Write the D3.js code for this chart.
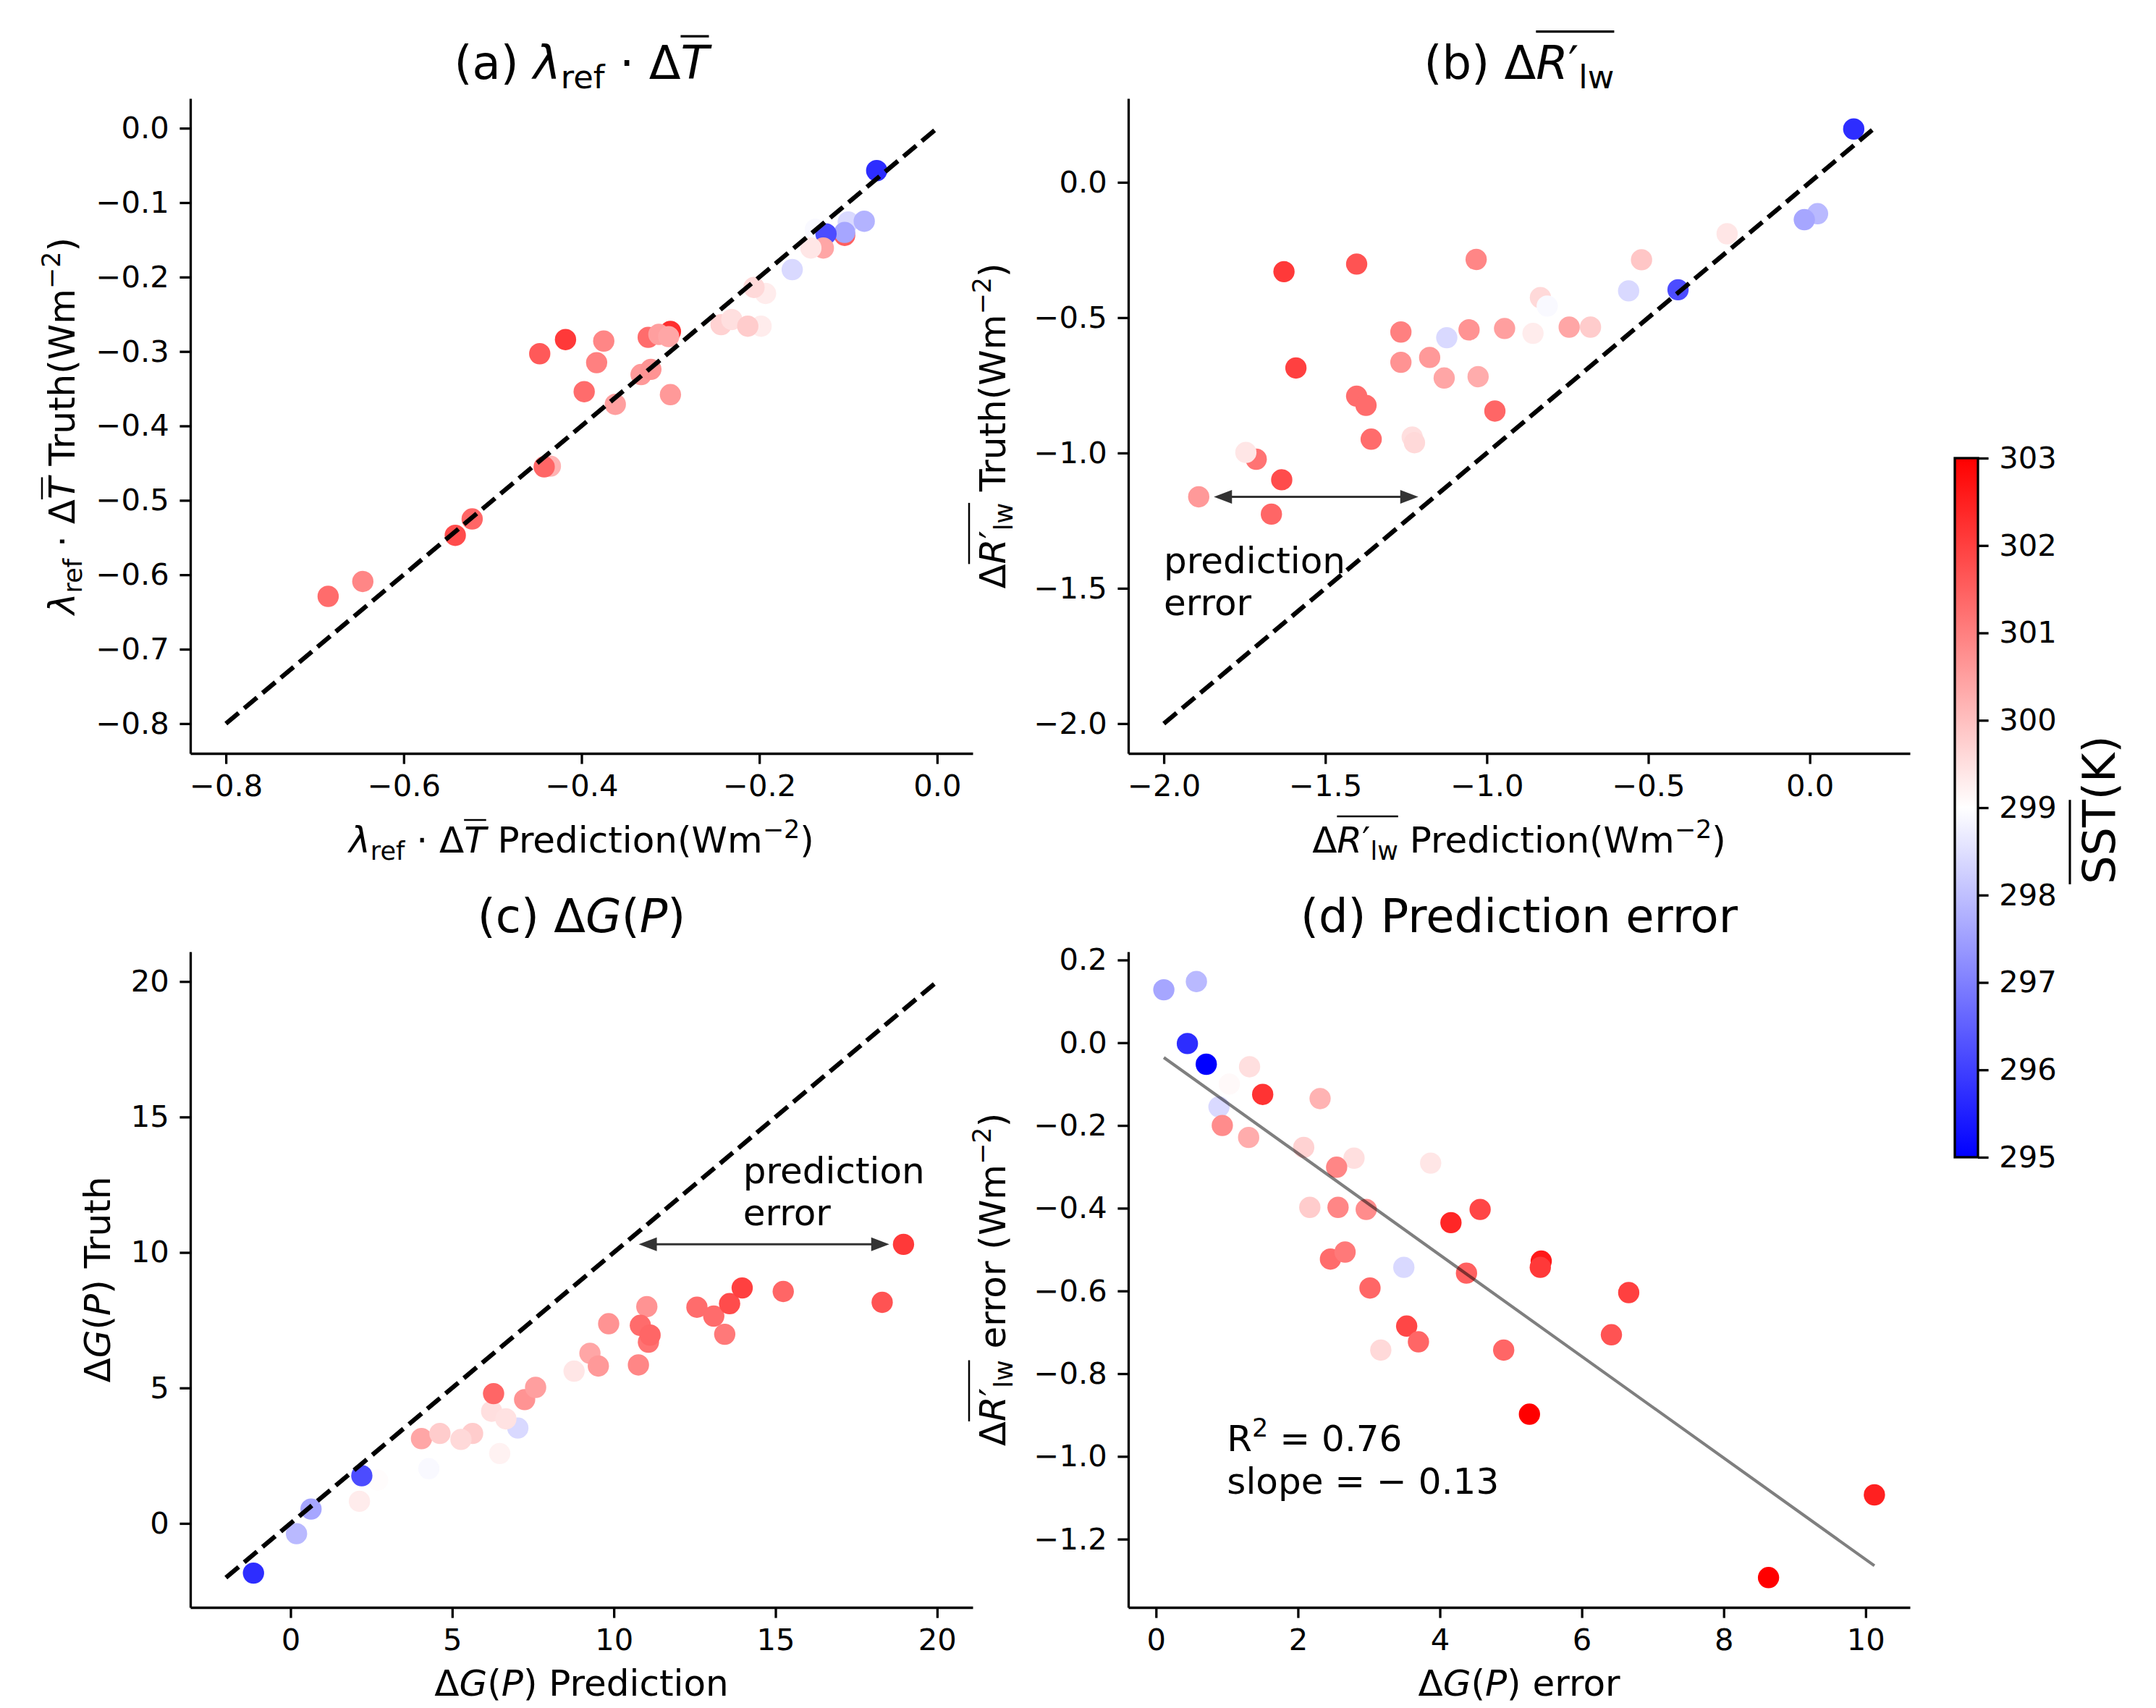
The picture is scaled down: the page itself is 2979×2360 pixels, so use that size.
<!DOCTYPE html>
<html>
<head>
<meta charset="utf-8">
<script src="https://cdn.jsdelivr.net/npm/d3@7"></script>
<style>
  body { margin: 0; background: #fff; }
  text { font-family: "DejaVu Sans", sans-serif; }
</style>
</head>
<body>
<svg id="fig"></svg>
<script>
// ---- data ----
// (a) lambda_ref * dT
var aPred  = [-0.068,-0.100,-0.082,-0.104,-0.104,-0.137,-0.125,-0.128,-0.142,-0.163,-0.193,-0.206,-0.243,-0.231,-0.198,-0.213,-0.325,-0.300,-0.313,-0.302,-0.333,-0.322,-0.300,-0.362,-0.397,-0.383,-0.375,-0.418,-0.447,-0.435,-0.442,-0.523,-0.542,-0.646,-0.685];
var aTruth = [-0.057,-0.126,-0.125,-0.144,-0.140,-0.136,-0.142,-0.161,-0.161,-0.190,-0.222,-0.214,-0.264,-0.257,-0.266,-0.266,-0.281,-0.273,-0.277,-0.280,-0.331,-0.324,-0.358,-0.371,-0.354,-0.315,-0.286,-0.284,-0.303,-0.454,-0.455,-0.525,-0.547,-0.609,-0.629];
var aSST   = [295.7,298.4,297.8,301.5,297.6,298.9,296.2,300.4,299.4,298.4,299.3,299.6,299.7,299.5,299.3,299.8,301.3,302.3,300.5,300.4,300.6,300.7,300.6,300.5,301.3,301.0,300.9,302.1,301.6,300.2,301.4,301.4,301.8,300.9,301.3];
var aLine  = [-0.8, 0];
var aXTicks = [-0.8,-0.6,-0.4,-0.2,0.0];
var aYTicks = [-0.8,-0.7,-0.6,-0.5,-0.4,-0.3,-0.2,-0.1,0.0];

// (b) dR_lw
var bPred  = [0.136,0.024,-0.017,-0.297,-0.256,-0.521,-0.561,-0.408,-0.834,-0.813,-0.745,-0.679,-0.857,-1.628,-1.403,-1.033,-1.266,-1.124,-1.055,-0.945,-1.591,-1.266,-1.177,-1.132,-1.027,-0.975,-1.403,-1.374,-1.358,-1.231,-1.224,-1.714,-1.746,-1.635,-1.892,-1.667];
var bTruth = [0.197,-0.116,-0.138,-0.185,-0.190,-0.286,-0.401,-0.397,-0.426,-0.457,-0.535,-0.535,-0.558,-0.330,-0.302,-0.285,-0.553,-0.574,-0.545,-0.540,-0.686,-0.665,-0.647,-0.723,-0.718,-0.845,-0.790,-0.824,-0.949,-0.941,-0.962,-1.023,-0.998,-1.099,-1.162,-1.226];
var bSST   = [295.7,297.9,297.6,299.0,299.4,299.9,298.4,296.2,299.6,298.9,300.4,299.8,299.3,302.1,301.7,300.9,301.0,298.4,300.7,300.5,302.0,300.7,300.6,300.4,300.3,301.4,301.3,301.3,301.3,299.5,299.6,301.2,299.4,301.8,300.6,301.4];
var bLine  = [-2.0, 0.2];
var bTicks = [-2.0,-1.5,-1.0,-0.5,0.0];
var bArrowX = [-1.845, -1.212], bArrowY = -1.162;
var bNote = [-2.0, -1.6];

// (c) dG(P)
var cPred  = [-1.147,0.184,0.633,2.130,2.69,2.204,4.277,4.05,4.62,5.63,5.27,6.47,7.03,6.22,6.66,6.28,7.24,7.58,8.77,9.26,9.52,10.76,9.84,11.02,10.82,11.07,11.12,12.57,13.09,13.43,13.58,13.97,15.24,18.30,18.96];
var cTruth = [-1.834,-0.380,0.530,0.816,1.60,1.761,2.02,3.13,3.32,3.32,3.10,2.58,3.52,4.14,3.86,4.79,4.57,5.02,5.62,6.28,5.81,5.85,7.37,8.00,7.31,6.69,6.95,7.98,7.65,6.98,8.11,8.69,8.56,8.16,10.30];
var cSST   = [295.7,297.9,297.6,299.3,299.05,296.2,298.9,300.4,299.8,299.8,299.6,299.2,298.4,299.5,299.45,301.4,300.7,300.5,299.4,300.4,300.6,300.9,300.7,300.7,301.3,301.2,301.4,301.3,301.3,301.1,301.8,302.0,301.4,301.7,302.1];
var cLine  = [-2, 20];
var cTicks = [0, 5, 10, 15, 20];
var cArrowX = [10.77, 18.52], cArrowY = 10.30;
var cNote = [14, 11];

// (d) prediction error
var dX   = [0.110,0.569,0.442,0.708,1.318,1.033,1.503,0.887,0.934,1.305,2.312,2.081,2.790,2.545,3.870,2.167,2.565,2.962,4.156,4.567,2.458,2.664,3.492,4.375,5.428,5.415,6.661,3.015,6.417,3.532,3.698,3.167,4.899,5.262,10.123,8.631];
var dY   = [0.128,0.148,-0.002,-0.052,-0.058,-0.100,-0.125,-0.155,-0.200,-0.229,-0.135,-0.253,-0.279,-0.301,-0.291,-0.398,-0.398,-0.403,-0.435,-0.403,-0.523,-0.506,-0.543,-0.557,-0.528,-0.543,-0.604,-0.593,-0.706,-0.685,-0.723,-0.743,-0.743,-0.898,-1.093,-1.293];
var dSST = [297.6,297.9,295.7,295.0,299.5,299.1,302.2,298.4,300.8,300.3,300.2,299.7,299.5,300.9,299.4,299.8,300.9,300.8,302.4,301.9,301.3,301.1,298.4,301.5,302.6,302.1,302.0,301.4,301.7,301.9,301.4,299.6,301.4,303.0,302.5,303.0];
var dXTicks = [0, 2, 4, 6, 8, 10];
var dYTicks = [-1.2,-1.0,-0.8,-0.6,-0.4,-0.2,0.0,0.2];
var fitSlope = -0.1227, fitIntercept = -0.0222;
var dNote = [1.0, -1.09];

var sstTicks = [295,296,297,298,299,300,301,302,303];

// ---- setup ----
var width = 2979, height = 2360;
var tickFont = 41.7, labelFont = 50, titleFont = 64;
var lw = 3.3;

var svg = d3.select('#fig').attr('width', width).attr('height', height);
svg.append('rect').attr('width', width).attr('height', height).attr('fill', '#fff');

var clr = d3.scaleLinear().domain([295, 299, 303]).range(['#0000ff', '#ffffff', '#ff0000']).clamp(true);

function padded(vals) {
    var e = d3.extent(vals), m = (e[1] - e[0]) * 0.05;
    return [e[0] - m, e[1] + m];
}

// text with italic / sub / sup / overline pieces
function rich(parent, parts, size, x, y, rot, anchor, ovh) {
    var g = parent.append('g').attr('transform', 'translate(' + x + ',' + y + ')' + (rot ? ' rotate(' + rot + ')' : ''));
    var t = g.append('text').attr('font-size', size).attr('text-anchor', anchor || 'middle');
    var shift = 0;
    parts.forEach(function(p) {
        var target = p.sub ? 0.2 * size : (p.sup ? -0.4 * size : 0);
        var s = t.append('tspan').text(p.t).attr('dy', target - shift);
        shift = target;
        if (p.sub || p.sup) s.attr('font-size', 0.7 * size);
        if (p.it) s.attr('font-style', 'italic');
        if (p.dx) s.attr('dx', p.dx * size);
    });
    var node = t.node(), i = 0, o0 = null, o1 = null;
    parts.forEach(function(p) {
        var n = p.t.length;
        if (p.ov) {
            var a = node.getStartPositionOfChar(i).x, b = node.getEndPositionOfChar(i + n - 1).x;
            o0 = o0 == null ? a : Math.min(o0, a);
            o1 = o1 == null ? b : Math.max(o1, b);
        }
        i += n;
    });
    if (o0 != null) {
        var oy = -(ovh || 0.95) * size;
        g.append('line').attr('x1', o0).attr('x2', o1).attr('y1', oy).attr('y2', oy)
            .attr('stroke', '#000').attr('stroke-width', 0.05 * size);
    }
    return g;
}

var lamT = [{t: 'λ', it: 1}, {t: 'ref', sub: 1}, {t: ' · Δ'}, {t: 'T', it: 1, ov: 1}];
var dR   = [{t: 'Δ'}, {t: 'R', it: 1, ov: 1}, {t: '′', ov: 1}, {t: 'lw', sub: 1, ov: 1}];
var dG   = [{t: 'Δ'}, {t: 'G', it: 1}, {t: '('}, {t: 'P', it: 1}, {t: ')'}];
var wm   = [{t: '(Wm'}, {t: '−2', sup: 1}, {t: ')'}];

function arrowHead(g, tipX, tipY, dir) {
    var L = 25, hw = 9.5;
    g.append('path')
        .attr('d', 'M' + tipX + ',' + tipY + ' L' + (tipX - dir * L) + ',' + (tipY - hw) + ' L' + (tipX - dir * L) + ',' + (tipY + hw) + ' Z')
        .attr('fill', '#333');
}

function panel(cfg) {
    var g = svg.append('g');
    var x = d3.scaleLinear().domain(cfg.xdom).range([cfg.box[0], cfg.box[2]]);
    var y = d3.scaleLinear().domain(cfg.ydom).range([cfg.box[3], cfg.box[1]]);

    var xa = g.append('g').attr('transform', 'translate(0,' + cfg.box[3] + ')')
        .call(d3.axisBottom(x).tickValues(cfg.xt).tickFormat(cfg.xf).tickSize(14.6).tickPadding(14.6).tickSizeOuter(0));
    var ya = g.append('g').attr('transform', 'translate(' + cfg.box[0] + ',0)')
        .call(d3.axisLeft(y).tickValues(cfg.yt).tickFormat(cfg.yf).tickSize(14.6).tickPadding(14.6).tickSizeOuter(0));
    [xa, ya].forEach(function(a) {
        a.attr('font-size', tickFont).attr('font-family', '"DejaVu Sans", sans-serif');
        a.selectAll('line, path').attr('stroke-width', lw).attr('stroke', '#000');
        a.selectAll('text').attr('fill', '#000');
    });

    g.selectAll('circle.pt')
        .data(cfg.xs.map(function(v, i) { return {x: v, y: cfg.ys[i], s: cfg.ss[i]}; }))
        .enter().append('circle')
        .attr('class', 'pt')
        .attr('cx', function(d) { return x(d.x); })
        .attr('cy', function(d) { return y(d.y); })
        .attr('r', 14.7)
        .attr('fill', function(d) { return clr(d.s); });

    if (cfg.line) {
        g.append('line')
            .attr('x1', x(cfg.line[0])).attr('y1', y(cfg.line[0]))
            .attr('x2', x(cfg.line[1])).attr('y2', y(cfg.line[1]))
            .attr('stroke', '#000').attr('stroke-width', 6.25).attr('stroke-dasharray', '23,10');
    }
    if (cfg.arrow) {
        var ax0 = x(cfg.arrow[0][0]), ax1 = x(cfg.arrow[0][1]), ay = y(cfg.arrow[1]);
        g.append('line').attr('x1', ax0 + 20).attr('x2', ax1 - 20).attr('y1', ay).attr('y2', ay)
            .attr('stroke', '#333').attr('stroke-width', 3);
        arrowHead(g, ax0, ay, -1);
        arrowHead(g, ax1, ay, 1);
    }
    if (cfg.note) {
        var nx = x(cfg.note[0]), ny = y(cfg.note[1]);
        cfg.noteLines.forEach(function(s, i) {
            rich(g, s, labelFont, nx, ny - (cfg.noteLines.length - 1 - i) * 58.5, 0, 'start');
        });
    }
    if (cfg.fit) {
        var fx = d3.extent(cfg.xs);
        g.append('line')
            .attr('x1', x(fx[0])).attr('y1', y(cfg.fit[1] + cfg.fit[0] * fx[0]))
            .attr('x2', x(fx[1])).attr('y2', y(cfg.fit[1] + cfg.fit[0] * fx[1]))
            .attr('stroke', '#000').attr('stroke-opacity', 0.5).attr('stroke-width', 4.2);
    }

    var cx = (cfg.box[0] + cfg.box[2]) / 2, cy = (cfg.box[1] + cfg.box[3]) / 2;
    rich(g, cfg.title, titleFont, cx, cfg.box[1] - 27, 0, 'middle', cfg.tov);
    rich(g, cfg.xlabel, labelFont, cx, cfg.box[3] + cfg.xlOff, 0, 'middle', cfg.lov);
    rich(g, cfg.ylabel, labelFont, cfg.box[0] - cfg.ylOff, cy, -90, 'middle', cfg.lov);
}

var f1 = d3.format('.1f'), f0 = d3.format('d');

panel({
    box: [263, 136, 1344, 1041],
    xdom: padded(aPred.concat(aLine)), ydom: padded(aTruth.concat(aLine)),
    xt: aXTicks, yt: aYTicks, xf: f1, yf: f1,
    xs: aPred, ys: aTruth, ss: aSST, line: aLine,
    title: [{t: '(a) '}].concat(lamT),
    xlabel: lamT.concat([{t: ' Prediction'}], wm),
    ylabel: lamT.concat([{t: ' Truth'}], wm),
    xlOff: 137, ylOff: 160, tov: 0.92, lov: 0.9
});

panel({
    box: [1559, 136, 2639, 1041],
    xdom: padded(bPred.concat(bLine)), ydom: padded(bTruth.concat(bLine)),
    xt: bTicks, yt: bTicks, xf: f1, yf: f1,
    xs: bPred, ys: bTruth, ss: bSST, line: bLine,
    arrow: [bArrowX, bArrowY],
    note: bNote, noteLines: [[{t: 'prediction'}], [{t: 'error'}]],
    title: [{t: '(b) '}].concat(dR),
    xlabel: dR.concat([{t: ' Prediction'}], wm),
    ylabel: dR.concat([{t: ' Truth'}], wm),
    xlOff: 137, ylOff: 170, tov: 1.02, lov: 1.0
});

panel({
    box: [263, 1315, 1344, 2221],
    xdom: padded(cPred.concat(cLine)), ydom: padded(cTruth.concat(cLine)),
    xt: cTicks, yt: cTicks, xf: f0, yf: f0,
    xs: cPred, ys: cTruth, ss: cSST, line: cLine,
    arrow: [cArrowX, cArrowY],
    note: cNote, noteLines: [[{t: 'prediction'}], [{t: 'error'}]],
    title: [{t: '(c) '}].concat(dG),
    xlabel: dG.concat([{t: ' Prediction'}]),
    ylabel: dG.concat([{t: ' Truth'}]),
    xlOff: 122, ylOff: 111
});

panel({
    box: [1559, 1315, 2639, 2221],
    xdom: padded(dX), ydom: padded(dY),
    xt: dXTicks, yt: dYTicks, xf: f0, yf: f1,
    xs: dX, ys: dY, ss: dSST,
    fit: [fitSlope, fitIntercept],
    note: dNote, noteLines: [[{t: 'R'}, {t: '2', sup: 1}, {t: ' = 0.76'}], [{t: 'slope = − 0.13'}]],
    title: [{t: '(d) Prediction error'}],
    xlabel: dG.concat([{t: ' error'}]),
    ylabel: dR.concat([{t: ' error '}], wm),
    xlOff: 122, ylOff: 170, lov: 1.0
});

// ---- colorbar ----
var cb = {x0: 2701, x1: 2733, y0: 633, y1: 1599};
var grad = svg.append('defs').append('linearGradient').attr('id', 'bwr')
    .attr('x1', 0).attr('y1', 1).attr('x2', 0).attr('y2', 0);
grad.selectAll('stop').data(clr.domain()).enter().append('stop')
    .attr('offset', function(d) { return (d - 295) / 8; })
    .attr('stop-color', function(d) { return clr(d); });
svg.append('rect').attr('x', cb.x0).attr('y', cb.y0).attr('width', cb.x1 - cb.x0).attr('height', cb.y1 - cb.y0)
    .attr('fill', 'url(#bwr)').attr('stroke', '#000').attr('stroke-width', lw);
var cbScale = d3.scaleLinear().domain([295, 303]).range([cb.y1, cb.y0]);
var cba = svg.append('g').attr('transform', 'translate(' + cb.x1 + ',0)')
    .call(d3.axisRight(cbScale).tickValues(sstTicks).tickFormat(f0).tickSize(14.6).tickPadding(14.6).tickSizeOuter(0));
cba.select('.domain').remove();
cba.attr('font-size', tickFont).attr('font-family', '"DejaVu Sans", sans-serif');
cba.selectAll('line').attr('stroke-width', lw).attr('stroke', '#000');
cba.selectAll('text').attr('fill', '#000');
rich(svg, [{t: 'SST', ov: 1}, {t: '(K)'}], 62, 2922, (cb.y0 + cb.y1) / 2 + 3, -90, 'middle', 1.0);
</script>
</body>
</html>
